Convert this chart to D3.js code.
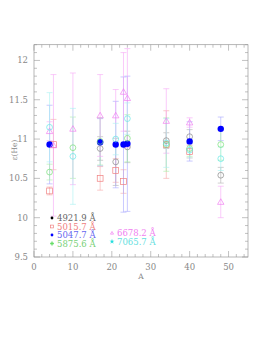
<!DOCTYPE html>
<html>
<head>
<meta charset="utf-8">
<script src="https://cdn.jsdelivr.net/npm/d3@7"></script>
<style>
  body { margin: 0; background: #fff; }
  svg text { font-family: "DejaVu Serif", "Liberation Serif", serif; }
</style>
</head>
<body>
<div id="graph"></div>
<script>
// line names (legend) and their colours / markers
var lines = ["4921.9 Å", "5015.7 Å", "5047.7 Å", "5875.6 Å", "6678.2 Å", "7065.7 Å"]
var colors = ["#8a8a8a", "#f08080", "#0000ff", "#77e077", "#f080f0", "#66e6e6"]
var barColors = ["#b0b0b0", "#f6a8a8", "#a8a8ff", "#a8f0a8", "#f6a8f6", "#a8f2f2"]
var markers = ["ocircle", "square", "dot", "ocircle", "triangle", "ocircle"]

// each series: A, epsilon(He), error
var s4921 = [[17, 10.88, 0.15], [21, 10.71, 0.30], [24, 10.90, 0.20], [34, 10.98, 0.10], [40, 11.03, 0.09], [48, 10.54, 0.10]]
var s5015 = [[4, 10.34, 0.05], [5, 10.93, 0.32], [17, 10.50, 0.15], [21, 10.60, 0.15], [23, 10.46, 0.15], [34, 10.93, 0.43], [40, 10.84, 0.08]]
var s5047 = [[4, 10.93, 0.50], [17, 10.96, 0.30], [21, 10.93, 0.55], [23, 10.93, 0.86], [24, 10.94, 0.86], [40, 10.97, 0.25], [48, 11.13, 0.15]]
var s5875 = [[4, 10.58, 0.10], [10, 10.89, 0.39], [17, 10.97, 0.30], [24, 11.01, 0.30], [34, 10.93, 0.34], [40, 10.88, 0.10], [48, 10.93, 0.20]]
var s6678 = [[4, 11.10, 0.12], [5, 10.92, 0.90], [10, 11.13, 0.71], [17, 11.30, 0.52], [21, 11.30, 0.33], [23, 11.60, 0.50], [24, 11.52, 0.63], [34, 11.23, 0.41], [40, 11.21, 0.06], [48, 10.20, 0.20]]
var s7065 = [[4, 11.15, 0.44], [10, 10.78, 0.61], [21, 11.00, 0.20], [24, 11.26, 0.20], [34, 10.95, 0.31], [40, 10.86, 0.10], [48, 10.75, 0.15]]
var series = [s4921, s5015, s5047, s5875, s6678, s7065]

var xTicks = [0, 10, 20, 30, 40, 50]
var yTicks = [9.5, 10, 10.5, 11, 11.5, 12]

var W = 269, H = 349
var pLeft = 34, pRight = 248, pTop = 44.7, pBottom = 257

var x = d3.scaleLinear().domain([0, 55]).range([pLeft, pRight])
var y = d3.scaleLinear().domain([9.5, 12.2]).range([pBottom, pTop])

var svg = d3.select("#graph").append("svg")
    .attr("width", W)
    .attr("height", H)

var frameCol = "#999999"

// frame
svg.append("rect")
    .attr("x", pLeft).attr("y", pTop)
    .attr("width", pRight - pLeft).attr("height", pBottom - pTop)
    .attr("fill", "none").attr("stroke", frameCol).attr("stroke-width", 0.7)

// ticks on all four sides, pointing in
var xMinor = d3.range(0, 55.01, 2)
var yMinor = d3.range(9.5, 12.201, 0.1)
var tickG = svg.append("g").attr("stroke", frameCol).attr("stroke-width", 0.6)
xMinor.forEach(function (v) {
    var len = (Math.abs(v % 10) < 1e-6) ? 6 : 3
    tickG.append("line").attr("x1", x(v)).attr("x2", x(v)).attr("y1", pBottom).attr("y2", pBottom - len)
    tickG.append("line").attr("x1", x(v)).attr("x2", x(v)).attr("y1", pTop).attr("y2", pTop + len)
})
yMinor.forEach(function (v) {
    var r = Math.round(v * 10)
    var len = (r % 5 == 0) ? 6 : 3
    tickG.append("line").attr("y1", y(v)).attr("y2", y(v)).attr("x1", pLeft).attr("x2", pLeft + len)
    tickG.append("line").attr("y1", y(v)).attr("y2", y(v)).attr("x1", pRight).attr("x2", pRight - len)
})

// tick labels
svg.selectAll(".xl").data(xTicks).enter().append("text")
    .attr("x", function (d) { return x(d) }).attr("y", 270)
    .attr("text-anchor", "middle").attr("font-size", 8.5).attr("fill", "#888")
    .text(function (d) { return d })
svg.selectAll(".yl").data(yTicks).enter().append("text")
    .attr("x", 28).attr("y", function (d) { return y(d) + 3 })
    .attr("text-anchor", "end").attr("font-size", 8.5).attr("fill", "#888")
    .text(function (d) { return d })

// axis titles
svg.append("text").attr("x", 141).attr("y", 279).attr("text-anchor", "middle")
    .attr("font-size", 7.5).attr("fill", "#888").text("A")
svg.append("text").attr("transform", "translate(17,150) rotate(-90)")
    .attr("text-anchor", "middle").attr("font-size", 7.5).attr("fill", "#888").text("ε(He)")

// draw a marker of a given kind
function drawMarker(g, kind, cx, cy, col, size) {
    if (kind == "dot") {
        g.append("circle").attr("cx", cx).attr("cy", cy).attr("r", size).attr("fill", col)
    } else if (kind == "ocircle") {
        g.append("circle").attr("cx", cx).attr("cy", cy).attr("r", size)
            .attr("fill", "none").attr("stroke", col).attr("stroke-width", 0.7)
    } else if (kind == "square") {
        g.append("rect").attr("x", cx - size).attr("y", cy - size)
            .attr("width", 2 * size).attr("height", 2 * size)
            .attr("fill", "none").attr("stroke", col).attr("stroke-width", 0.7)
    } else if (kind == "triangle") {
        var s = size * 1.1
        g.append("path").attr("d", "M" + cx + "," + (cy - s) + "L" + (cx + s) + "," + (cy + s * 0.75) + "L" + (cx - s) + "," + (cy + s * 0.75) + "Z")
            .attr("fill", "none").attr("stroke", col).attr("stroke-width", 0.7)
    } else if (kind == "star") {
        g.append("path").attr("d", d3.symbol().type(d3.symbolStar).size(size * size * 4)())
            .attr("transform", "translate(" + cx + "," + cy + ")").attr("fill", col)
    } else if (kind == "asterisk") {
        g.append("path").attr("d", d3.symbol().type(d3.symbolCross).size(size * size * 4)())
            .attr("transform", "translate(" + cx + "," + cy + ")").attr("fill", col)
    }
}

// error bars first, then markers
series.forEach(function (data, k) {
    var col = barColors[k]
    var g = svg.append("g").attr("stroke", col).attr("stroke-width", 0.6)
    data.forEach(function (d) {
        var px = x(d[0]), y1 = y(d[1] + d[2]), y0 = y(d[1] - d[2])
        g.append("line").attr("x1", px).attr("x2", px).attr("y1", y1).attr("y2", y0)
        g.append("line").attr("x1", px - 3).attr("x2", px + 3).attr("y1", y1).attr("y2", y1)
        g.append("line").attr("x1", px - 3).attr("x2", px + 3).attr("y1", y0).attr("y2", y0)
    })
})
series.forEach(function (data, k) {
    var g = svg.append("g")
    data.forEach(function (d) {
        drawMarker(g, markers[k], x(d[0]), y(d[1]), colors[k], markers[k] == "dot" ? 3.2 : 2.9)
    })
})

// legend
var legMarks = ["dot", "square", "dot", "asterisk", "triangle", "star"]
var legCols = ["#000000", "#f08080", "#0000ff", "#66dd66", "#f080f0", "#22dddd"]
var legTextCols = ["#666666", "#f08080", "#6666f0", "#77d077", "#f080f0", "#66e0e0"]
var legPos = [[52, 218], [52, 226.5], [52, 235], [52, 243.5], [112, 233], [112, 241.5]]
lines.forEach(function (name, k) {
    var p = legPos[k]
    var g = svg.append("g")
    drawMarker(g, legMarks[k], p[0], p[1], legCols[k], 1.4)
    svg.append("text").attr("x", p[0] + 5).attr("y", p[1] + 3)
        .attr("font-size", 8.5).attr("fill", legTextCols[k]).text(name)
})
</script>
</body>
</html>
